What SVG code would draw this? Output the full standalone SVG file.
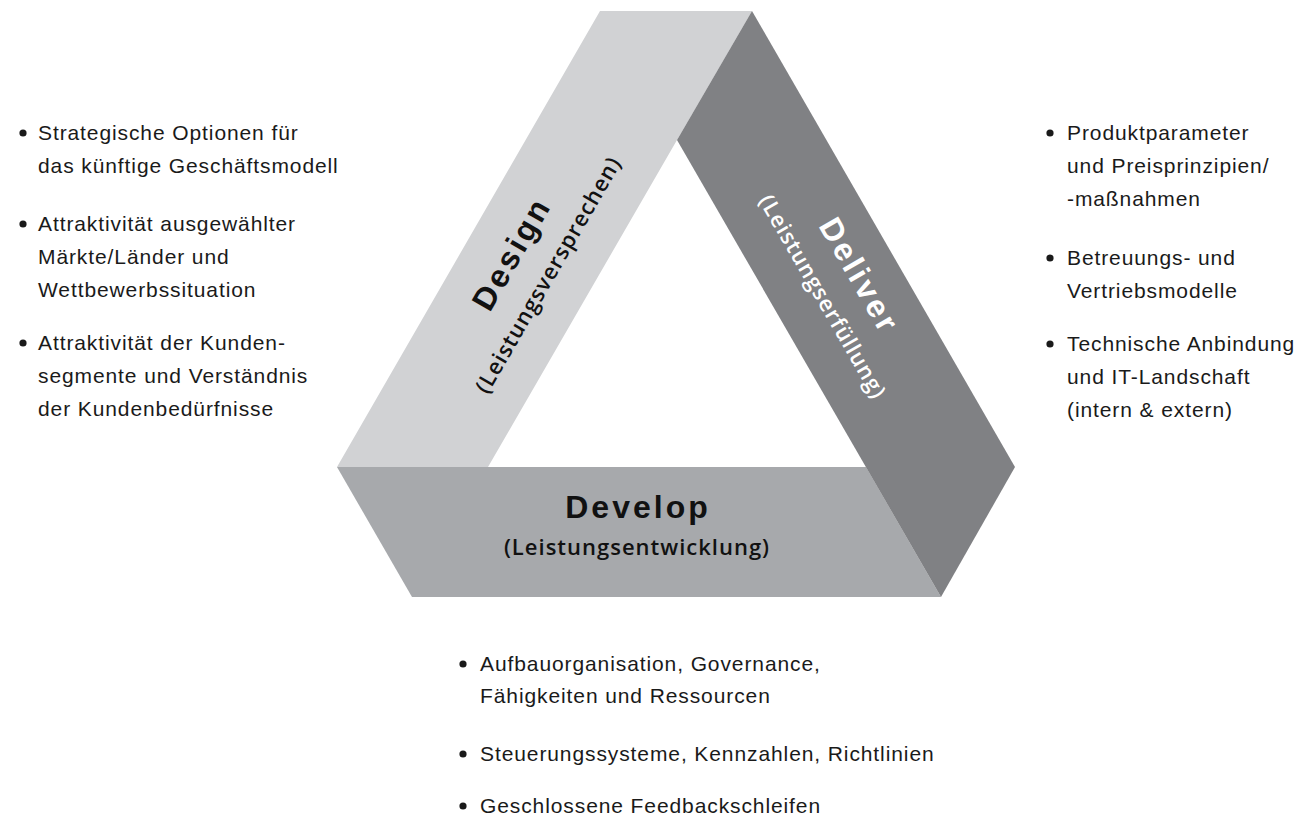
<svg xmlns="http://www.w3.org/2000/svg" width="1304" height="818" viewBox="0 0 1304 818">
  <style>
    .body { font-family: "Liberation Sans", "DejaVu Sans", sans-serif; font-size: 21px; letter-spacing: 0.9px; fill: #1a1a1a; }
    .dot { fill: #1a1a1a; }
    .title { font-family: "Liberation Sans", "DejaVu Sans", sans-serif; font-size: 32px; font-weight: bold; letter-spacing: 3px; text-anchor: middle; }
    .sub { font-family: "Open Sans", "Liberation Sans", sans-serif; font-size: 22px; font-weight: 600; letter-spacing: 1px; text-anchor: middle; }
    .dark-label { fill: #111111; }
    .light-label { fill: #ffffff; }
  </style>
  <rect width="1304" height="818" fill="#ffffff"/>

  <!-- Develop: bottom band -->
  <g id="develop">
    <polygon points="337,467 866,467 941,597 412,597" fill="#a7a9ac"/>
    <text class="title dark-label" x="638" y="518">Develop</text>
    <text class="sub dark-label" x="637" y="555">(Leistungsentwicklung)</text>
  </g>

  <!-- Design: left band -->
  <g id="design">
    <polygon points="600,11 752,11 677,140 488,467 337,467" fill="#d1d2d4"/>
    <g transform="translate(521,259) rotate(-60)">
      <text class="title dark-label" x="0" y="0">Design</text>
      <text class="sub dark-label" x="0" y="39">(Leistungsversprechen)</text>
    </g>
  </g>

  <!-- Deliver: right band -->
  <g id="deliver">
    <polygon points="752,11 1015,467 941,597 677,140" fill="#808184"/>
    <g transform="translate(850,281) rotate(60)">
      <text class="title light-label" x="0" y="0">Deliver</text>
      <text class="sub light-label" x="0" y="39">(Leistungserfüllung)</text>
    </g>
  </g>

  <!-- bullet list: Design -->
  <g id="design-notes" class="body">
    <circle class="dot" cx="23" cy="133" r="3.6"/>
    <text x="38" y="140">Strategische Optionen für</text>
    <text x="38" y="173">das künftige Geschäftsmodell</text>
    <circle class="dot" cx="23" cy="224" r="3.6"/>
    <text x="38" y="231">Attraktivität ausgewählter</text>
    <text x="38" y="264">Märkte/Länder und</text>
    <text x="38" y="297">Wettbewerbssituation</text>
    <circle class="dot" cx="23" cy="343" r="3.6"/>
    <text x="38" y="350">Attraktivität der Kunden-</text>
    <text x="38" y="383">segmente und Verständnis</text>
    <text x="38" y="416">der Kundenbedürfnisse</text>
  </g>

  <!-- bullet list: Deliver -->
  <g id="deliver-notes" class="body">
    <circle class="dot" cx="1050" cy="133" r="3.6"/>
    <text x="1067" y="140">Produktparameter</text>
    <text x="1067" y="173">und Preisprinzipien/</text>
    <text x="1067" y="206">-maßnahmen</text>
    <circle class="dot" cx="1050" cy="258" r="3.6"/>
    <text x="1067" y="265">Betreuungs- und</text>
    <text x="1067" y="298">Vertriebsmodelle</text>
    <circle class="dot" cx="1050" cy="344" r="3.6"/>
    <text x="1067" y="351">Technische Anbindung</text>
    <text x="1067" y="384">und IT-Landschaft</text>
    <text x="1067" y="417">(intern &amp; extern)</text>
  </g>

  <!-- bullet list: Develop -->
  <g id="develop-notes" class="body">
    <circle class="dot" cx="463" cy="664" r="3.6"/>
    <text x="480" y="671">Aufbauorganisation, Governance,</text>
    <text x="480" y="703">Fähigkeiten und Ressourcen</text>
    <circle class="dot" cx="463" cy="754" r="3.6"/>
    <text x="480" y="761">Steuerungssysteme, Kennzahlen, Richtlinien</text>
    <circle class="dot" cx="463" cy="806" r="3.6"/>
    <text x="480" y="813">Geschlossene Feedbackschleifen</text>
  </g>
</svg>
